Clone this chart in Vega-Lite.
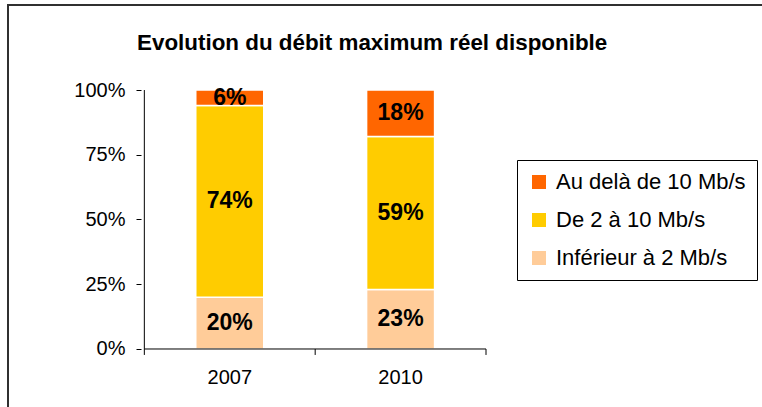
{
  "$schema": "https://vega.github.io/schema/vega-lite/v6.json",
  "autosize": {"type": "none"},
  "width": 800,
  "height": 450,
  "padding": {"left": 8, "top": 5, "right": -46, "bottom": -48},
  "background": "white",
  "config": {
    "font": "Liberation Sans",
    "view": {"stroke": "#303030", "strokeWidth": 2}
  },
  "title": {
    "text": "Evolution du débit maximum réel disponible",
    "anchor": "start",
    "dx": 129,
    "offset": -49,
    "fontSize": 22.4,
    "fontWeight": "bold",
    "font": "Liberation Sans",
    "color": "black"
  },
  "layer": [
    {
      "data": {"values": [
        {"year": "2007", "xpos": 0.5, "cat": "Inférieur à 2 Mb/s", "rank": 1, "value": 0.20, "label": "20%"},
        {"year": "2007", "xpos": 0.5, "cat": "De 2 à 10 Mb/s", "rank": 2, "value": 0.74, "label": "74%"},
        {"year": "2007", "xpos": 0.5, "cat": "Au delà de 10 Mb/s", "rank": 3, "value": 0.06, "label": "6%"},
        {"year": "2010", "xpos": 1.5, "cat": "Inférieur à 2 Mb/s", "rank": 1, "value": 0.23, "label": "23%"},
        {"year": "2010", "xpos": 1.5, "cat": "De 2 à 10 Mb/s", "rank": 2, "value": 0.59, "label": "59%"},
        {"year": "2010", "xpos": 1.5, "cat": "Au delà de 10 Mb/s", "rank": 3, "value": 0.18, "label": "18%"}
      ]},
      "layer": [
        {
          "mark": {"type": "bar", "size": 68, "stroke": "white", "strokeWidth": 1.5},
          "encoding": {
            "x": {"field": "xpos", "type": "quantitative", "scale": {"domain": [-0.7688, 3.8555], "nice": false, "zero": false}, "axis": null},
            "y": {"field": "value", "type": "quantitative", "stack": "zero",
                  "scale": {"domain": [-0.4093, 1.3282], "nice": false, "zero": false},
                  "axis": {"values": [0, 0.25, 0.5, 0.75, 1], "format": "%", "offset": -133, "domain": false, "grid": false,
                           "tickSize": 5, "tickColor": "black", "tickWidth": 1, "labelPadding": 11, "labelFontSize": 20,
                           "labelColor": "black", "labelFont": "Liberation Sans", "title": null}},
            "color": {"field": "cat", "type": "nominal",
                      "scale": {"domain": ["Au delà de 10 Mb/s", "De 2 à 10 Mb/s", "Inférieur à 2 Mb/s"], "range": ["#FF6600", "#FFCC00", "#FFCC99"]},
                      "legend": {"orient": "none", "legendX": 509, "legendY": 155, "title": null,
                                 "strokeColor": "black", "padding": 11, "fillColor": "white",
                                 "symbolType": "square", "symbolSize": 196, "symbolStrokeWidth": 0,
                                 "labelFontSize": 22, "labelFont": "Liberation Sans", "labelColor": "black", "labelLimit": 300,
                                 "labelOffset": 6, "rowPadding": 16}},
            "order": {"field": "rank", "type": "quantitative"}
          }
        },
        {
          "mark": {"type": "text", "fontSize": 23, "fontWeight": "bold", "font": "Liberation Sans", "color": "black", "baseline": "middle"},
          "encoding": {
            "x": {"field": "xpos", "type": "quantitative"},
            "y": {"field": "value", "type": "quantitative", "stack": "zero", "bandPosition": 0.5},
            "detail": {"field": "cat", "type": "nominal"},
            "order": {"field": "rank", "type": "quantitative"},
            "text": {"field": "label", "type": "nominal"}
          }
        }
      ]
    },
    {
      "data": {"values": [
        {"xa": 0, "xb": 0, "ya": -0.023, "yb": 1},
        {"xa": 0, "xb": 2, "ya": 0, "yb": 0},
        {"xa": 1, "xb": 1, "ya": -0.023, "yb": 0},
        {"xa": 2, "xb": 2, "ya": -0.023, "yb": 0}
      ]},
      "mark": {"type": "rule", "color": "black", "strokeWidth": 1},
      "encoding": {
        "x": {"field": "xa", "type": "quantitative"},
        "x2": {"field": "xb"},
        "y": {"field": "ya", "type": "quantitative"},
        "y2": {"field": "yb"}
      }
    },
    {
      "data": {"values": [
        {"xpos": 0.5, "ypos": -0.112, "year": "2007"},
        {"xpos": 1.5, "ypos": -0.112, "year": "2010"}
      ]},
      "mark": {"type": "text", "fontSize": 20, "font": "Liberation Sans", "color": "black", "baseline": "middle"},
      "encoding": {
        "x": {"field": "xpos", "type": "quantitative"},
        "y": {"field": "ypos", "type": "quantitative"},
        "text": {"field": "year", "type": "nominal"}
      }
    }
  ]
}
